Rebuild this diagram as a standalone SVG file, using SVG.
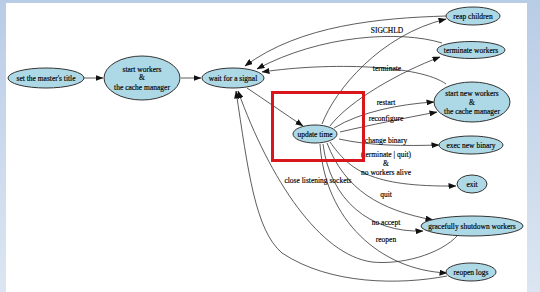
<svg xmlns="http://www.w3.org/2000/svg" width="540" height="292" viewBox="0 0 540 292">
<defs>
<linearGradient id="bg" x1="0" y1="0" x2="0" y2="1"><stop offset="0" stop-color="#b9cce6"/><stop offset="1" stop-color="#dce6f2"/></linearGradient>
<marker id="ah" markerUnits="userSpaceOnUse" markerWidth="8" markerHeight="6" refX="7.5" refY="3" orient="auto"><path d="M0,0 L8,3 L0,6 z" fill="#111"/></marker>
</defs>
<style>
.n ellipse{fill:#add8e6;stroke:#333;stroke-width:1}
text{font-family:"Liberation Serif","Times New Roman",serif;font-size:7.5px;fill:#000;stroke:#000;stroke-width:0.15;text-anchor:middle}
.e path{fill:none;stroke:#333;stroke-width:0.8;marker-end:url(#ah)}
</style>
<rect width="540" height="292" fill="url(#bg)"/>
<rect x="6" y="3" width="521" height="289" fill="#fff"/>
<g class="e" id="edges">
<path d="M84,78 L103,78"/>
<path d="M181,78 L201,78"/>
<path d="M247,88 C265,100 285,114 303,126"/>
<path d="M446,16 C380,18 300,25 245,66"/>
<path d="M442,43 C400,30 320,35 257,69"/>
<path d="M446,84 C420,65 330,62 262,72"/>
<path d="M322,124 C335,90 380,35 446,19"/>
<path d="M330,126 C350,100 400,72 440,57"/>
<path d="M334,128 C360,112 400,104 434,102"/>
<path d="M340,132 C370,125 405,118 437,112"/>
<path d="M339,139 C370,146 405,146 439,145"/>
<path d="M330,142 C350,170 370,187 456,186"/>
<path d="M327,143 C345,190 380,210 433,220"/>
<path d="M323,144 C330,200 370,233 423,231"/>
<path d="M320,144 C325,220 380,270 447,273"/>
<path d="M458,235 C440,255 400,265 372,262 C320,255 270,180 238,91"/>
<path d="M447,276 C400,285 330,285 282,253 C255,230 248,170 236,91"/>
</g>
<g class="n" id="n_title"><ellipse cx="46" cy="78" rx="38" ry="10"/><text x="46" y="80.5">set the master's title</text></g>
<g class="n" id="n_start"><ellipse cx="142" cy="78" rx="38" ry="22"/><text x="142" y="71.5">start workers</text><text x="142" y="80">&amp;</text><text x="142" y="89.5">the cache manager</text></g>
<g class="n" id="n_wait"><ellipse cx="233" cy="78" rx="31" ry="10"/><text x="233" y="80.5">wait for a signal</text></g>
<g class="n" id="n_update"><ellipse cx="315" cy="134" rx="22" ry="9"/><text x="315" y="136.5">update time</text></g>
<g class="n" id="n_reap"><ellipse cx="473" cy="16" rx="27" ry="9"/><text x="473" y="18.5">reap children</text></g>
<g class="n" id="n_term"><ellipse cx="471" cy="50" rx="34" ry="8.5"/><text x="471" y="52.5">terminate workers</text></g>
<g class="n" id="n_new"><ellipse cx="472" cy="102" rx="38" ry="20"/><text x="472" y="96">start new workers</text><text x="472" y="104.5">&amp;</text><text x="472" y="113.5">the cache manager</text></g>
<g class="n" id="n_exec"><ellipse cx="471" cy="145" rx="32" ry="9"/><text x="471" y="147.5">exec new binary</text></g>
<g class="n" id="n_exit"><ellipse cx="472" cy="184" rx="15" ry="9"/><text x="472" y="186.5">exit</text></g>
<g class="n" id="n_grace"><ellipse cx="472" cy="226" rx="51" ry="10"/><text x="472" y="228.5">gracefully shutdown workers</text></g>
<g class="n" id="n_reopen"><ellipse cx="471" cy="272" rx="25" ry="9"/><text x="471" y="274.5">reopen logs</text></g>
<g id="labels">
<text x="387" y="32.5">SIGCHLD</text>
<text x="387" y="70.5">terminate</text>
<text x="386" y="104.5">restart</text>
<text x="386" y="120.5">reconfigure</text>
<text x="386" y="142.5">change binary</text>
<text x="386" y="156.5">(terminate | quit)</text>
<text x="386" y="165.5">&amp;</text>
<text x="386" y="174.5">no workers alive</text>
<text x="318" y="182.5">close listening sockets</text>
<text x="386" y="196.5">quit</text>
<text x="386" y="224.5">no accept</text>
<text x="386" y="241.5">reopen</text>
</g>
<rect x="272.5" y="92.5" width="91" height="68" fill="none" stroke="#d9161c" stroke-width="3"/>
</svg>
